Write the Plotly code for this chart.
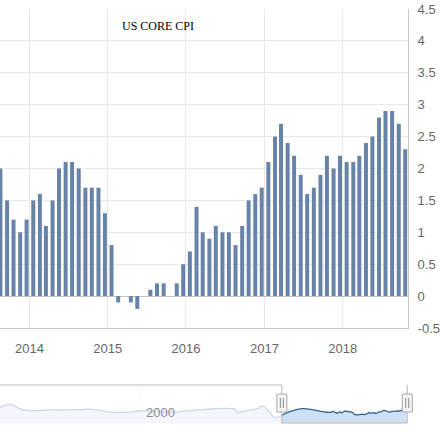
import pandas as pd
import plotly.graph_objects as go

# ---------------- data ----------------
# Monthly CPI (% y/y), first month July 2013, last month September 2018
first_month = "2013-07-01"
cpi_values = [
    2.0, 1.5, 1.2, 1.0, 1.2, 1.5,
    1.6, 1.1, 1.5, 2.0, 2.1, 2.1, 2.0, 1.7, 1.7, 1.7, 1.3, 0.8,
    -0.1, 0.0, -0.1, -0.2, 0.0, 0.1, 0.2, 0.2, 0.0, 0.2, 0.5, 0.7,
    1.4, 1.0, 0.9, 1.1, 1.0, 1.0, 0.8, 1.1, 1.5, 1.6, 1.7, 2.1,
    2.5, 2.7, 2.4, 2.2, 1.9, 1.6, 1.7, 1.9, 2.2, 2.0, 2.2, 2.1,
    2.1, 2.2, 2.4, 2.5, 2.8, 2.9, 2.9, 2.7, 2.3,
]

# Longer history shown in the navigator
hist_months = [
    "1990-01-01", "1990-10-01", "1991-09-01", "1993-07-01", "1995-01-01",
    "1996-08-01", "1997-10-01", "1999-03-01", "1999-11-01", "2002-05-01",
    "2003-02-01", "2004-07-01", "2005-09-01", "2006-08-01", "2006-10-01",
    "2007-04-01", "2008-03-01", "2008-07-01", "2008-12-01", "2009-06-01",
    "2010-05-01", "2011-05-01", "2012-02-01", "2012-10-01", "2013-04-01",
]
hist_values = [
    4.5, 6.4, 2.9, 2.9, 2.9,
    3.3, 1.6, 1.6, 2.4, 1.6,
    2.3, 3.3, 3.9, 3.3, 1.2,
    2.3, 3.7, 5.4, 2.3, -1.9,
    1.6, 3.7, 2.9, 1.8, 1.4,
]

year_ticks = ["2014-01-01", "2015-01-01", "2016-01-01", "2017-01-01", "2018-01-01"]
year_labels = ["2014", "2015", "2016", "2017", "2018"]
y_ticks = [-0.5, 0, 0.5, 1, 1.5, 2, 2.5, 3, 3.5, 4, 4.5]
y_labels = ["-0.5", "0", "0.5", "1", "1.5", "2", "2.5", "3", "3.5", "4", "4.5"]

title_text = "US CORE CPI"
nav_label_date = "2000-01-01"
nav_label_text = "2000"

# ---------------- view settings ----------------
main_range = ["2013-08-17", "2018-11-01"]
nav_range = ["1990-02-26", "2019-05-19"]
sel_start, sel_end = "2010-01-01", "2018-11-01"
nav_floor, nav_ceil = -5.25, 18.5

W, H = 446, 432
ML, MR, MT, MB = 0, 31, 9, 9
PW, PH = W - ML - MR, H - MT - MB
main_right = 408
main_bottom = 328
nav_top = 385

# values plotted at (approximate) release dates
months = pd.date_range(first_month, periods=len(cpi_values), freq="MS")
release = months + pd.DateOffset(months=1) + pd.Timedelta(days=18)
hist_release = pd.to_datetime(hist_months) + pd.DateOffset(months=1) + pd.Timedelta(days=18)
nav_x = list(hist_release) + list(release)
nav_y = hist_values + cpi_values

bar_width = 18.6 * 24 * 3600 * 1000

font_axis = dict(family="Liberation Sans, Arial, sans-serif", size=13, color="#666666")

fig = go.Figure()
fig.add_trace(go.Bar(
    x=release, y=cpi_values, width=bar_width,
    marker=dict(color="#6784a8", line=dict(width=0)),
    xaxis="x", yaxis="y", hoverinfo="x+y",
))
# navigator baseline + series
fig.add_trace(go.Scatter(
    x=[nav_x[0], nav_x[-1]], y=[nav_floor, nav_floor], mode="lines",
    line=dict(width=0, color="rgba(0,0,0,0)"), xaxis="x2", yaxis="y2", hoverinfo="skip",
))
fig.add_trace(go.Scatter(
    x=nav_x, y=nav_y, mode="lines",
    line=dict(color="#33608e", width=1.3, shape="spline"),
    fill="tonexty", fillcolor="#cde0f6",
    xaxis="x2", yaxis="y2", hoverinfo="skip",
))

nav_top_paper = (H - MB - nav_top) / PH
outline = "#b8b8b8"
shapes = [
    # white mask over unselected part of navigator
    dict(type="rect", xref="x2", yref="paper", x0=nav_range[0], x1=sel_start,
         y0=0, y1=nav_top_paper, fillcolor="rgba(255,255,255,0.75)", line=dict(width=0), layer="above"),
    # outline
    dict(type="line", xref="x2", yref="paper", x0=nav_range[0], x1=sel_start,
         y0=nav_top_paper, y1=nav_top_paper, line=dict(color=outline, width=1)),
    dict(type="line", xref="x2", yref="paper", x0=sel_start, x1=sel_start,
         y0=0, y1=nav_top_paper, line=dict(color=outline, width=1)),
    dict(type="line", xref="x2", yref="paper", x0=sel_start, x1=sel_end,
         y0=0, y1=0, line=dict(color=outline, width=1)),
    dict(type="line", xref="x2", yref="paper", x0=sel_end, x1=sel_end,
         y0=0, y1=nav_top_paper, line=dict(color=outline, width=1)),
]
handle_y = (H - MB - 403) / PH
for d in (sel_start, sel_end):
    shapes.append(dict(type="rect", xref="x2", yref="paper", xsizemode="pixel", ysizemode="pixel",
                       xanchor=d, yanchor=handle_y, x0=-5, x1=5, y0=-9, y1=9,
                       fillcolor="#f4f4f4", line=dict(color="#a8a8a8", width=1), layer="above"))
    for dx in (-1.5, 1.5):
        shapes.append(dict(type="line", xref="x2", yref="paper", xsizemode="pixel", ysizemode="pixel",
                           xanchor=d, yanchor=handle_y, x0=dx, x1=dx, y0=-5, y1=5,
                           line=dict(color="#8a8a8a", width=1), layer="above"))

annotations = [
    dict(text=title_text, xref="paper", yref="paper", x=157.5 / PW, y=(H - MB - 26) / PH,
         xanchor="center", yanchor="middle", showarrow=False,
         font=dict(family="Liberation Serif, Times New Roman, serif", size=12, color="#000000")),
    dict(text=nav_label_text, xref="x2", yref="paper", x=nav_label_date, xshift=4,
         y=(H - MB - 412.7) / PH, xanchor="left", yanchor="middle", showarrow=False,
         font=dict(family="Liberation Sans, Arial, sans-serif", size=13, color="#8c8c8c")),
]

fig.update_layout(
    width=W, height=H,
    margin=dict(l=ML, r=MR, t=MT, b=MB, pad=0),
    paper_bgcolor="white", plot_bgcolor="white",
    showlegend=False,
    xaxis=dict(
        domain=[0, main_right / PW], anchor="y", type="date", range=main_range,
        tickmode="array", tickvals=year_ticks, ticktext=year_labels,
        showgrid=True, gridcolor="#e8e8e8", gridwidth=1,
        showline=True, linecolor="#c8c8c8", linewidth=1,
        ticks="outside", ticklen=8, tickcolor="rgba(0,0,0,0)",
        tickfont=font_axis, zeroline=False, fixedrange=True,
    ),
    yaxis=dict(
        domain=[(H - MB - main_bottom) / PH, 1], anchor="x", side="right",
        range=[-0.5, 4.5], tickmode="array", tickvals=y_ticks, ticktext=y_labels,
        showgrid=True, gridcolor="#e8e8e8", gridwidth=1,
        zeroline=True, zerolinecolor="#c4c4c4", zerolinewidth=1,
        showline=True, linecolor="#c8c8c8", linewidth=1,
        ticks="outside", ticklen=6, tickcolor="rgba(0,0,0,0)",
        tickfont=font_axis, fixedrange=True,
    ),
    xaxis2=dict(
        domain=[0, 1], anchor="y2", type="date", range=nav_range,
        tickmode="array", tickvals=[nav_label_date], showticklabels=False,
        showgrid=True, gridcolor="#ececec", showline=False, zeroline=False, ticks="",
        fixedrange=True,
    ),
    yaxis2=dict(
        domain=[0, nav_top_paper], anchor="x2", range=[nav_floor, nav_ceil],
        showgrid=False, zeroline=False, showticklabels=False, showline=False, ticks="",
        fixedrange=True,
    ),
    shapes=shapes,
    annotations=annotations,
)

fig.write_html("out.html", config={"displayModeBar": False},
               post_script="document.body.style.margin='0px';")
